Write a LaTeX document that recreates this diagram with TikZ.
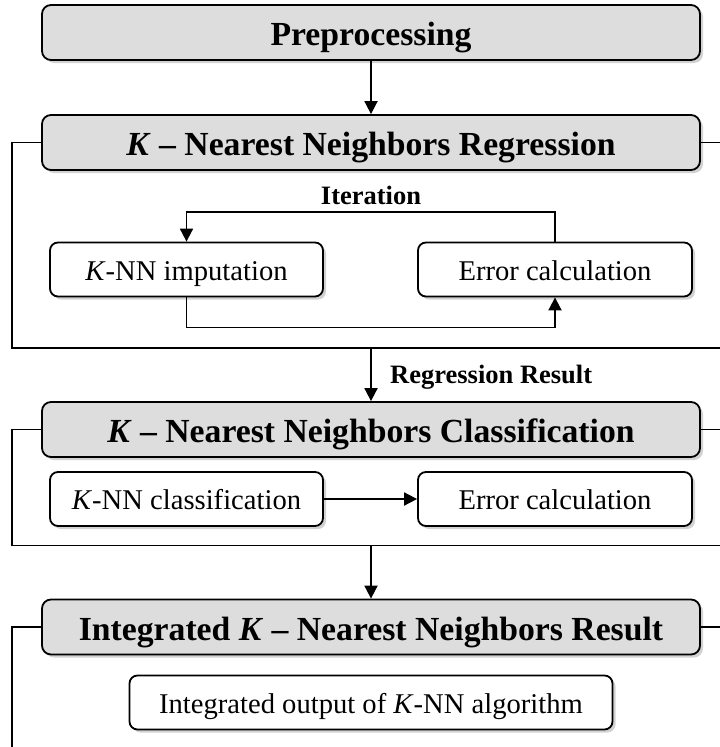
\documentclass[tikz,border=0pt]{standalone}
\usepackage{fontspec}
\setmainfont{Liberation Serif}
\usepackage{xcolor}
\usetikzlibrary{positioning,arrows.meta,shadows}

\definecolor{stagegray}{RGB}{221,221,221}

\tikzset{
    stage/.style={draw, line width=1.8pt, rounded corners=9pt, fill=stagegray,
        minimum width=658pt, minimum height=55pt, text height=26pt, text depth=0pt,
        font=\fontsize{33.7}{40}\selectfont\bfseries,
        drop shadow={shadow xshift=3pt, shadow yshift=-3pt, opacity=0.25, fill=black!70}},
    task/.style={draw, line width=1.8pt, rounded corners=8pt, fill=white,
        minimum height=54pt, text height=21pt, text depth=0pt,
        font=\fontsize{28.6}{34}\selectfont,
        drop shadow={shadow xshift=3pt, shadow yshift=-3pt, opacity=0.25, fill=black!70}},
    lbl/.style={font=\fontsize{26.5}{32}\selectfont\bfseries, text height=17.5pt, text depth=0pt},
    frame/.style={line width=1.8pt},
    arr/.style={line width=1.8pt, -{Triangle[length=13pt, width=13pt]}}
}

\begin{document}
\begin{tikzpicture}[x=1pt, y=-1pt, on grid]

    \useasboundingbox (0,0) rectangle (720,747);

    % stages
    \node[stage] (pre) at (371,32.5) {Preprocessing};
    \node[stage] (reg) [below=110pt of pre] {\textit{K} -- Nearest Neighbors Regression};
    \node[stage] (cls) [below=287pt of reg] {\textit{K} -- Nearest Neighbors Classification};
    \node[stage] (res) [below=197.5pt of cls] {Integrated \textit{K} -- Nearest Neighbors Result};

    % tasks
    \node[task, minimum width=273pt] (imp) [below left=127pt and 184.5pt of reg] {\textit{K}-NN imputation};
    \node[task, minimum width=274pt] (err) [right=368.5pt of imp] {Error calculation};
    \node[task, minimum width=273pt] (knc) [below left=69.5pt and 184.5pt of cls] {\textit{K}-NN classification};
    \node[task, minimum width=274pt] (err2) [right=368.5pt of knc] {Error calculation};
    \node[task, minimum width=483pt] (out) [below=75.5pt of res] {Integrated output of \textit{K}-NN algorithm};

    % frame corners
    \coordinate (rb) at (12,348);
    \coordinate (cb) at (12,545.5);
    \coordinate (sb) at (12,750);
    \coordinate (edge) at (720,0);

    \draw[frame] (reg.west) -| (rb) -- (rb -| edge);
    \draw[frame] (reg.east) -- (reg.east -| edge);
    \draw[frame] (cls.west) -| (cb) -- (cb -| edge);
    \draw[frame] (cls.east) -- (cls.east -| edge);
    \draw[frame] (res.west) -| (sb);
    \draw[frame] (res.east) -- (res.east -| edge);

    % flow
    \draw[arr] (pre) -- (reg);
    \draw[arr] (err.north) -- ++(0,-30) coordinate (itr) -| (imp.north);
    \node[lbl, above=3.5pt] at (itr -| reg) {Iteration};
    \draw[arr] (imp.south) -- ++(0,30) -| (err.south);
    \draw[arr] (reg.south |- rb) -- (cls.north)
        node[lbl, midway, anchor=west, xshift=15pt] {Regression Result};
    \draw[arr] (knc) -- (err2);
    \draw[arr] (cls.south |- cb) -- (res.north);

\end{tikzpicture}
\end{document}
